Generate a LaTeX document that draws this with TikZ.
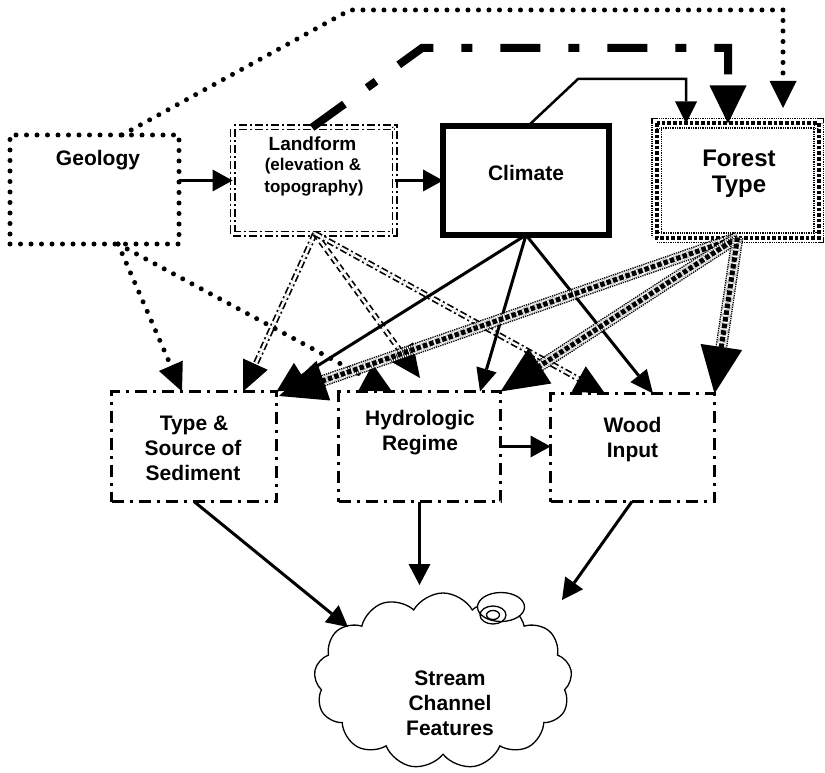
\documentclass[tikz,border=0pt]{standalone}
\usepackage{fontspec}
\setmainfont{Liberation Sans}
\usetikzlibrary{arrows.meta,shapes.symbols,calc}
\newcommand\tipto[4]{\draw[line width=0.8pt,-{Triangle[length=#3,width=#4,line width=0pt]}] ($(#2)!#3!(#1)$) -- (#2);}
\begin{document}
\begin{tikzpicture}[x=1pt,y=-1pt,
 lbl/.style={font=\bfseries\fontsize{21}{25}\selectfont, inner sep=0pt, anchor=base},
 dotl/.style={line width=5pt, line cap=round, dash pattern=on 0pt off 10.5pt},
 geobox/.style={draw, dotl, outer sep=0pt, minimum width=169pt, minimum height=109pt},
 landbox/.style={draw, line width=1.7pt, double distance=2.6pt, dash pattern=on 8pt off 3pt on 2pt off 3pt, outer sep=0pt},
 climbox/.style={draw, line width=6.5pt, outer sep=0pt},
 forestbox/.style={draw, line width=1.4pt, double distance=8pt, dash pattern=on 1.3pt off 1pt, outer sep=0pt},
 squares/.style={line width=4pt, dash pattern=on 3.6pt off 2pt},
 ddbox/.style={draw, line width=3pt, dash pattern=on 12pt off 6pt on 3pt off 6pt, outer sep=0pt},
 solidc/.style={line width=3pt},
 landl/.style={line width=1.7pt, double distance=2.4pt, dash pattern=on 7pt off 3pt on 2pt off 3pt},
 landd/.style={line width=1.7pt, double distance=2.4pt, dash pattern=on 6pt off 4pt},
 forestl/.style={line width=1.4pt, double distance=9pt, dash pattern=on 1.3pt off 1pt},
 forestsq/.style={line width=5pt, dash pattern=on 4.5pt off 2.2pt},
 thickdd/.style={line width=8pt, dash pattern=on 40pt off 28pt on 11pt off 28pt}
]
\useasboundingbox (0,0) rectangle (825,773);
\fill[white] (0,0) rectangle (825,773);

% boxes
\node[geobox] (geo) at (94.5,189.5) {};
\node[landbox, minimum width=162pt, minimum height=106pt] (land) at (313.5,180.5) {};
\node[climbox, minimum width=166pt, minimum height=109pt] (clim) at (526,180.5) {};
\node[forestbox, minimum width=162pt, minimum height=114pt] (forest) at (737.5,180.5) {};
\draw[squares] (forest.north west) rectangle (forest.south east);
\node[ddbox, minimum width=165pt, minimum height=110pt] (sed) at (194,446.5) {};
\node[ddbox, minimum width=162pt, minimum height=110pt] (hyd) at (419.5,446.5) {};
\node[ddbox, minimum width=164pt, minimum height=108pt] (wood) at (632.5,447.5) {};
\node[cloud, cloud ignores aspect, draw, line width=1.3pt, cloud puffs=13, cloud puff arc=120, minimum width=258pt, minimum height=176pt, inner sep=0pt] (cloud) at (443,681) {};
\draw[line width=1.3pt, fill=white] (501,607) ellipse [x radius=23.5pt, y radius=14.5pt];
\draw[line width=1.3pt] (493,615) ellipse [x radius=13pt, y radius=9pt];
\draw[line width=1.3pt] (493,615) ellipse [x radius=6.5pt, y radius=4.5pt];

% texts
\node[lbl] (geot) at (98,165) {Geology};
\node[lbl, font=\bfseries\fontsize{19}{22}\selectfont] (landt1) at (312.5,150) {Landform};
\node[lbl, font=\bfseries\fontsize{17}{20}\selectfont] (landt2) at (313,171) {(elevation \&};
\node[lbl, font=\bfseries\fontsize{17}{20}\selectfont] (landt3) at (314,193) {topography)};
\node[lbl] (climt) at (526,180) {Climate};
\node[lbl, font=\bfseries\fontsize{24}{28}\selectfont] (fort1) at (739,167) {Forest};
\node[lbl, font=\bfseries\fontsize{24}{28}\selectfont] (fort2) at (739,193) {Type};
\node[lbl] (sedt1) at (194,430) {Type \&};
\node[lbl] (sedt2) at (193,455) {Source of};
\node[lbl] (sedt3) at (193,480) {Sediment};
\node[lbl] (hydt1) at (420,425) {Hydrologic};
\node[lbl] (hydt2) at (420,450) {Regime};
\node[lbl] (woodt1) at (632.5,432) {Wood};
\node[lbl] (woodt2) at (632.5,457) {Input};
\node[lbl] (clt1) at (450,685) {Stream};
\node[lbl] (clt2) at (450,710) {Channel};
\node[lbl] (clt3) at (450,735) {Features};

% anchor points
\coordinate (gS) at ([xshift=23.5pt]geo.south);
\coordinate (gN) at ([xshift=27.5pt]geo.north);
\coordinate (lS) at ([xshift=1.5pt]land.south);
\coordinate (lN) at ([xshift=-1.5pt]land.north);
\coordinate (cS) at (clim.south);
\coordinate (cN) at ([xshift=2pt]clim.north);
\coordinate (fS) at (forest.south);
\coordinate (sedG) at ([xshift=-12pt]sed.north);
\coordinate (sedL) at ([xshift=49pt]sed.north);
\coordinate (sedF) at (279,396);
\coordinate (hydG) at ([xshift=-27.5pt]hyd.north);
\coordinate (hydL) at (420,378);
\coordinate (hydC) at ([xshift=60.5pt]hyd.north);
\coordinate (woodL) at ([xshift=-27.5pt]wood.north);
\coordinate (woodC) at ([xshift=20.5pt]wood.north);
\coordinate (fT1) at ([xshift=-51.5pt]forest.north);
\coordinate (fT2) at ([xshift=-9.5pt]forest.north);
\coordinate (fT3) at (783,108);
\coordinate (cl1) at (348,627);
\coordinate (cl2) at (419.5,585);
\coordinate (cl3) at (562,600);

% top row connectors
\draw[solidc, -{Triangle[length=20pt,width=22pt,line width=0pt]}] (geo.east |- land.west) -- (land.west);
\draw[solidc, -{Triangle[length=20pt,width=22pt,line width=0pt]}] (land.east) -- (clim.west);
\draw[solidc, -{Triangle[length=20pt,width=22pt,line width=0pt]}] (hyd.east) -- (hyd.east -| wood.west);
\draw[line width=2.5pt, -{Triangle[length=22pt,width=22pt,line width=0pt]}] (cN) -- (578,79) -| (fT1);
\draw[thickdd, -{Triangle[length=38pt,width=37pt,line width=0pt]}] (lN) -- (422,48) -| (fT2);
\draw[dotl, -{Triangle[length=27pt,width=27pt,line width=0pt]}] (gN) -- (350,10) -| (fT3);

% geology connectors
\draw[dotl, -{Triangle[length=28pt,width=26pt,line width=0pt]}] (gS) -- (sedG);
\draw[dotl, -{Triangle[length=30pt,width=30pt,line width=0pt]}] (gS) -- (hydG);

% landform connectors
\draw[landl, shorten >=28pt] (lS) -- (sedL);
\tipto{lS}{sedL}{30pt}{27pt}
\draw[landd, shorten >=31pt] (lS) -- (hydL);
\tipto{lS}{hydL}{33pt}{30pt}
\draw[landl, shorten >=28pt] (lS) -- (woodL);
\tipto{lS}{woodL}{30pt}{29pt}

% climate connectors
\draw[solidc, -{Triangle[length=30pt,width=30pt,line width=0pt]}] (cS) -- (sed.north east);
\draw[solidc, -{Triangle[length=23pt,width=21pt,line width=0pt]}] (cS) -- (hydC);
\draw[solidc, -{Triangle[length=23pt,width=21pt,line width=0pt]}] (cS) -- (woodC);

% forest connectors
\draw[forestl, shorten >=44pt] (fS) -- (sedF);
\draw[forestsq, shorten >=44pt] (fS) -- (sedF);
\tipto{fS}{sedF}{47pt}{42pt}
\draw[forestl, shorten >=44pt] (fS) -- (hyd.north east);
\draw[forestsq, shorten >=44pt] (fS) -- (hyd.north east);
\tipto{fS}{hyd.north east}{47pt}{42pt}
\draw[forestl, shorten >=44pt] (fS) -- (wood.north east);
\draw[forestsq, shorten >=44pt] (fS) -- (wood.north east);
\tipto{fS}{wood.north east}{47pt}{42pt}

% to the stream channel features
\draw[solidc, -{Triangle[length=21pt,width=22pt,line width=0pt]}] (sed.south) -- (cl1);
\draw[solidc, -{Triangle[length=21pt,width=22pt,line width=0pt]}] (hyd.south) -- (cl2);
\draw[solidc, -{Triangle[length=21pt,width=22pt,line width=0pt]}] ([xshift=-0.5pt]wood.south) -- (cl3);
\end{tikzpicture}
\end{document}
